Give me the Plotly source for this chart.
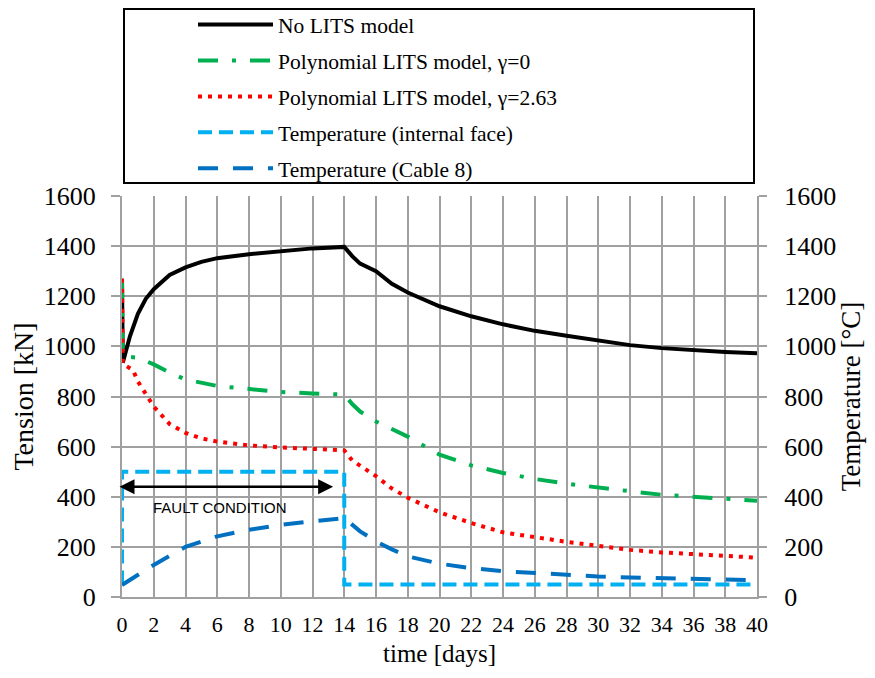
import plotly.graph_objects as go

# ---- data ----
t_nolits = [0, 0.05, 0.5, 1, 1.5, 2, 3, 4, 5, 6, 8, 10, 12, 14, 14.5, 15, 16, 17, 18, 20, 22, 24, 26, 28, 30, 32, 34, 36, 38, 40]
v_nolits = [1270, 935, 1040, 1130, 1190, 1228, 1285, 1315, 1337, 1352, 1368, 1381, 1391, 1397, 1360, 1330, 1300, 1250, 1215, 1160, 1120, 1088, 1062, 1042, 1022, 1005, 993, 984, 978, 973]

t_g0 = [0, 0.05, 1, 2, 3, 4, 6, 8, 10, 12, 14, 14.5, 15, 16, 17, 18, 20, 22, 24, 26, 28, 30, 32, 34, 36, 38, 40]
v_g0 = [1270, 960, 955, 928, 895, 868, 842, 828, 818, 812, 808, 770, 740, 700, 668, 640, 568, 525, 495, 471, 452, 435, 422, 408, 399, 390, 384]

t_g263 = [0, 0.05, 0.7, 1, 2, 3, 4, 5, 6, 8, 10, 12, 14, 14.5, 15, 16, 17, 18, 20, 22, 24, 26, 28, 30, 32, 34, 36, 38, 40]
v_g263 = [1270, 930, 905, 860, 760, 690, 655, 633, 620, 605, 597, 590, 585, 545, 525, 482, 433, 396, 338, 295, 258, 238, 220, 204, 188, 178, 170, 163, 157]

t_face = [0, 0, 14, 14, 40]
v_face = [50, 500, 500, 50, 50]

t_cable = [0, 0.7, 2, 4, 6, 8, 10, 12, 14, 15, 16, 17, 18, 20, 22, 24, 26, 28, 30, 32, 34, 36, 38, 40]
v_cable = [48, 75, 128, 200, 242, 268, 288, 302, 315, 262, 222, 190, 162, 133, 115, 103, 95, 88, 82, 78, 74, 72, 70, 67]

x_ticks = list(range(0, 41, 2))
y_ticks = list(range(0, 1601, 200))

SERIF = "Liberation Serif, Times New Roman, serif"
GRID = "#a0a0a0"

fig = go.Figure()
fig.add_trace(go.Scatter(x=t_nolits, y=v_nolits, mode="lines", name="No LITS model",
                         line=dict(color="black", width=4), legendgroup="a"))
fig.add_trace(go.Scatter(x=t_g0, y=v_g0, mode="lines", name="Polynomial LITS model, \u03b3=0",
                         line=dict(color="#00B050", width=4, dash="20px,14px,4px,14px"), legendgroup="b"))
fig.add_trace(go.Scatter(x=t_g263, y=v_g263, mode="lines", name="Polynomial LITS model, \u03b3=2.63",
                         line=dict(color="#FF0000", width=4, dash="4px,6px"), legendgroup="c"))
fig.add_trace(go.Scatter(x=t_face, y=v_face, mode="lines", name="Temperature (internal face)",
                         line=dict(color="#00B0F0", width=4, dash="14px,7px"), yaxis="y2", legendgroup="d"))
fig.add_trace(go.Scatter(x=t_cable, y=v_cable, mode="lines", name="Temperature (Cable 8)",
                         line=dict(color="#0070C0", width=4, dash="20px,15px"), yaxis="y2", legendgroup="e"))

fig.add_annotation(x=13.3, y=440, ax=-0.25, ay=440, xref="x", yref="y", axref="x", ayref="y",
                   text="", showarrow=True, arrowhead=2, arrowsize=1.2, arrowwidth=2.5,
                   arrowside="end+start", arrowcolor="black")
fig.add_annotation(x=6.2, y=356, xref="x", yref="y", text="FAULT CONDITION", showarrow=False,
                   font=dict(family="Liberation Sans, Arial, sans-serif", size=15, color="black"))

# plot-area geometry (figure coords; page adds 8px body margin)
L, R, T, B = 114, 749, 188, 589
W, H = 867, 670
PW, PH = R - L, B - T

# x-axis title
fig.add_annotation(x=0.5, y=(B - 645) / PH, xref="paper", yref="paper", text="time [days]",
                   showarrow=False, yanchor="middle",
                   font=dict(family=SERIF, size=25, color="black"))

# legend box
fig.add_shape(type="rect", xref="paper", yref="paper",
              x0=(116 - L) / PW, x1=(746 - L) / PW,
              y0=(B - 175) / PH, y1=(B - 1) / PH,
              line=dict(color="black", width=2), fillcolor="white", layer="below")

axis_common = dict(showline=True, linecolor=GRID, linewidth=2, gridcolor=GRID, gridwidth=2,
                   zeroline=False)

fig.update_layout(
    width=W, height=H,
    margin=dict(l=L, r=W - R, t=T, b=H - B, autoexpand=False),
    paper_bgcolor="white", plot_bgcolor="white",
    showlegend=True,
    legend=dict(x=(185 - L) / PW, y=1 + (T + 4) / PH, xanchor="left", yanchor="top",
                bgcolor="rgba(0,0,0,0)",
                font=dict(family=SERIF, size=21.5, color="black"), traceorder="grouped",
                tracegroupgap=5, itemwidth=75),
    xaxis=dict(range=[0, 40], tickvals=x_ticks, ticks="", ticklabelstandoff=7,
               tickfont=dict(family=SERIF, size=22, color="black"),
               **axis_common),
    yaxis=dict(range=[0, 1600], tickvals=y_ticks, ticks="outside", ticklen=9, tickcolor=GRID, tickwidth=2,
               ticklabelstandoff=10, tickfont=dict(family=SERIF, size=26, color="black"),
               title=dict(text="Tension [kN]", font=dict(family=SERIF, size=28, color="black"), standoff=8),
               **axis_common),
    yaxis2=dict(range=[0, 1600], tickvals=y_ticks, overlaying="y", side="right", ticks="outside",
                ticklen=8, tickcolor=GRID, tickwidth=2, showgrid=False, ticklabelstandoff=12,
                showline=True, linecolor=GRID, linewidth=2, zeroline=False,
                tickfont=dict(family=SERIF, size=26, color="black"),
                title=dict(text="Temperature [\u00b0C]", font=dict(family=SERIF, size=27, color="black"), standoff=4)),
)

fig.write_html("out.html")
